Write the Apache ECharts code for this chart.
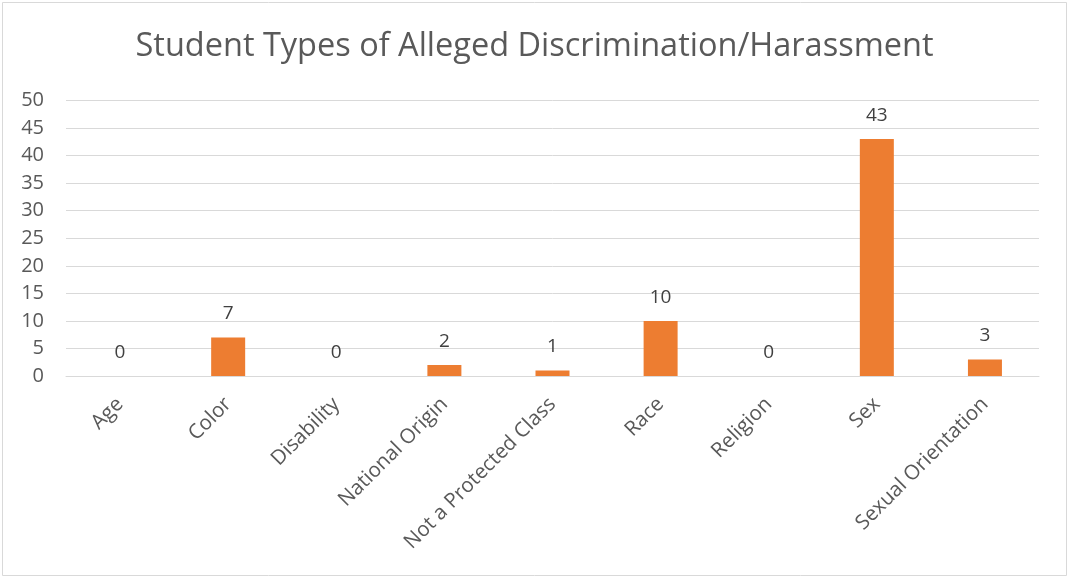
<!DOCTYPE html>
<html>
<head>
<meta charset="utf-8">
<script src="https://cdn.jsdelivr.net/npm/echarts@6/dist/echarts.min.js"></script>
<style>
html,body{margin:0;padding:0;background:#fff;}
#main{width:1069px;height:578px;}
</style>
</head>
<body>
<div id="main"></div>
<script>
const titleText = "Student Types of Alleged Discrimination/Harassment";
const categories = ["Age","Color","Disability","National Origin","Not a Protected Class","Race","Religion","Sex","Sexual Orientation"];
const values = [0,7,0,2,1,10,0,43,3];
const yMin = 0, yMax = 50, yInterval = 5;

const chart = echarts.init(document.getElementById('main'), null, {renderer:'canvas'});
const font = "'Open Sans', 'Liberation Sans', sans-serif";
chart.setOption({
  backgroundColor: '#fff',
  animation: false,
  graphic: [{
    type: 'rect', shape: {x: 2.5, y: 2.5, width: 1064, height: 573},
    style: {fill: 'none', stroke: '#d9d9d9', lineWidth: 1}, silent: true
  }],
  title: {
    text: titleText, left: 'center', top: 25,
    textStyle: {fontFamily: font, fontSize: 32.5, fontWeight: 'normal', color: '#595959'}
  },
  grid: {left: 66, right: 30, top: 100.5, bottom: 202, containLabel: false},
  xAxis: {
    type: 'category', data: categories,
    axisLine: {show: true, lineStyle: {color: '#d9d9d9', width: 1}},
    axisTick: {show: false},
    axisLabel: {rotate: 45, margin: 25, interval: 0, fontFamily: font, fontSize: 20.5, color: '#595959'}
  },
  yAxis: {
    type: 'value', min: yMin, max: yMax, interval: yInterval,
    axisLine: {show: false}, axisTick: {show: false},
    splitLine: {lineStyle: {color: '#d9d9d9', width: 1}},
    axisLabel: {margin: 22, fontFamily: font, fontSize: 20, color: '#595959'}
  },
  series: [{
    type: 'bar', data: values, barWidth: 34,
    itemStyle: {color: '#ED7D31'},
    label: {show: true, position: 'top', distance: 14, fontFamily: font, fontSize: 19, color: '#404040'}
  }]
});
</script>
</body>
</html>
